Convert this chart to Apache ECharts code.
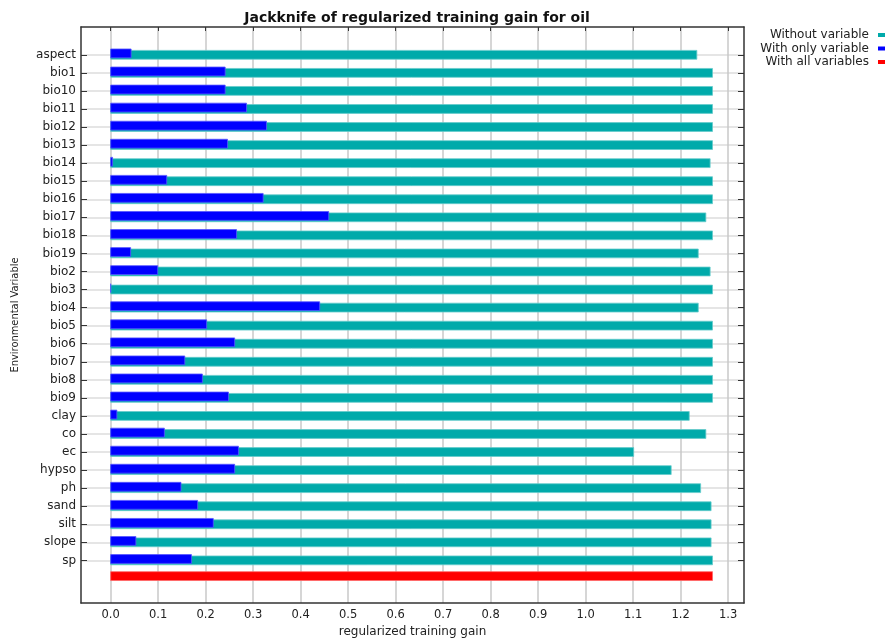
<!DOCTYPE html>
<html>
<head>
<meta charset="utf-8">
<script src="https://cdn.jsdelivr.net/npm/echarts@6/dist/echarts.min.js"></script>
<style>html,body{margin:0;padding:0;background:#fff;}#c{width:890px;height:643px;}</style>
</head>
<body>
<div id="c"></div>
<script>
const categories = ['aspect','bio1','bio10','bio11','bio12','bio13','bio14','bio15','bio16','bio17','bio18','bio19','bio2','bio3','bio4','bio5','bio6','bio7','bio8','bio9','clay','co','ec','hypso','ph','sand','silt','slope','sp'];
const withoutVariable = [1.234,1.267,1.267,1.267,1.267,1.267,1.262,1.267,1.267,1.253,1.267,1.237,1.262,1.267,1.237,1.267,1.267,1.267,1.267,1.267,1.218,1.253,1.101,1.180,1.242,1.264,1.264,1.264,1.267];
const withOnlyVariable = [0.043,0.241,0.241,0.286,0.328,0.246,0.004,0.118,0.321,0.459,0.265,0.042,0.099,0.0,0.440,0.202,0.261,0.156,0.193,0.248,0.013,0.113,0.269,0.261,0.148,0.183,0.216,0.053,0.170];
const withAllVariables = [1.267];
const xTicks = [0.0,0.1,0.2,0.3,0.4,0.5,0.6,0.7,0.8,0.9,1.0,1.1,1.2,1.3];
const seriesNames = ['Without variable','With only variable','With all variables'];

const rowIdx = categories.map((c,i)=>i);
const allRow = categories.length - 1 + 0.87;
const band = 0.49;
const FONT = 'DejaVu Sans';

function makeRender(offsetPx, stroke){
  return function(params, api){
    const v = api.value(0), row = api.value(1);
    const s = api.coord([0,row]);
    const e = api.coord([v,row]);
    const h = api.size([0,band])[1];
    return {type:'rect', shape:{x:s[0], y:s[1]-h/2+offsetPx, width:e[0]-s[0], height:h},
      style:{fill:api.visual('color'), stroke:stroke, lineWidth:0.8}};
  };
}

const chart = echarts.init(document.getElementById('c'), null, {renderer:'canvas'});
const yBase = {type:'value', inverse:true, min:-1.54, max:30.36};
const axLine = {show:true, onZero:false, lineStyle:{color:'#333', width:1.5}};
chart.setOption({
  animation:false,
  title:{text:'Jackknife of regularized training gain for oil', left:412, top:6, textAlign:'center',
    textStyle:{fontFamily:FONT, fontWeight:'bold', fontSize:14, color:'#111'}},
  legend:{orient:'vertical', right:0, top:24, align:'right', itemWidth:7, itemHeight:4, itemGap:1.5,
    icon:'rect', data:seriesNames,
    textStyle:{fontFamily:FONT, fontSize:12, color:'#222', lineHeight:12, padding:[0,4,0,0]}},
  grid:{left:81, right:146, top:27, bottom:29},
  xAxis:[
    {type:'value', position:'bottom', min:-0.0625, max:1.3333,
     axisLine:axLine,
     axisTick:{show:false, customValues:xTicks},
     axisLabel:{customValues:xTicks, formatter:v=>v.toFixed(1), fontFamily:FONT, fontSize:11.5, color:'#222', margin:6},
     splitLine:{show:true, lineStyle:{color:'#c8c8c8', width:1.5}},
     name:'regularized training gain', nameLocation:'middle', nameGap:23,
     nameTextStyle:{fontFamily:FONT, fontSize:12, color:'#222'}},
    {type:'value', position:'top', min:-0.0625, max:1.3333,
     axisLine:axLine,
     axisTick:{show:true, inside:true, length:4, customValues:xTicks, lineStyle:{color:'#333'}},
     axisLabel:{show:false}, splitLine:{show:false}}
  ],
  yAxis:[
    Object.assign({}, yBase, {position:'left',
     axisLine:axLine,
     axisTick:{show:true, inside:true, length:6, customValues:rowIdx, lineStyle:{color:'#333'}},
     axisLabel:{customValues:rowIdx, formatter:v=>categories[Math.round(v)], fontFamily:FONT, fontSize:12, color:'#222', margin:5},
     splitLine:{show:true, lineStyle:{color:'#dcdcdc', width:1.5}},
     name:'Environmental Variable', nameLocation:'middle', nameRotate:90, nameGap:60,
     nameTextStyle:{fontFamily:"'DejaVu Sans Condensed', 'Liberation Sans Narrow', 'Liberation Sans', sans-serif", fontSize:11, color:'#222'}}),
    Object.assign({}, yBase, {position:'right',
     axisLine:axLine,
     axisTick:{show:true, inside:true, length:6, customValues:rowIdx, lineStyle:{color:'#333'}},
     axisLabel:{show:false}, splitLine:{show:false}})
  ],
  series:[
    {name:seriesNames[0], type:'custom', xAxisIndex:0, yAxisIndex:0, itemStyle:{color:'#00aaaa'},
     encode:{x:0,y:1}, renderItem:makeRender(0,'#66cccc'),
     data:withoutVariable.map((v,i)=>[v,i])},
    {name:seriesNames[1], type:'custom', xAxisIndex:0, yAxisIndex:0, itemStyle:{color:'#0000ff'},
     encode:{x:0,y:1}, renderItem:makeRender(-1.4,'#5555ff'),
     data:withOnlyVariable.map((v,i)=>[v,i])},
    {name:seriesNames[2], type:'custom', xAxisIndex:0, yAxisIndex:0, itemStyle:{color:'#ff0000'},
     encode:{x:0,y:1}, renderItem:makeRender(0,'#ff6666'),
     data:withAllVariables.map(v=>[v,allRow])}
  ]
});
</script>
</body>
</html>
